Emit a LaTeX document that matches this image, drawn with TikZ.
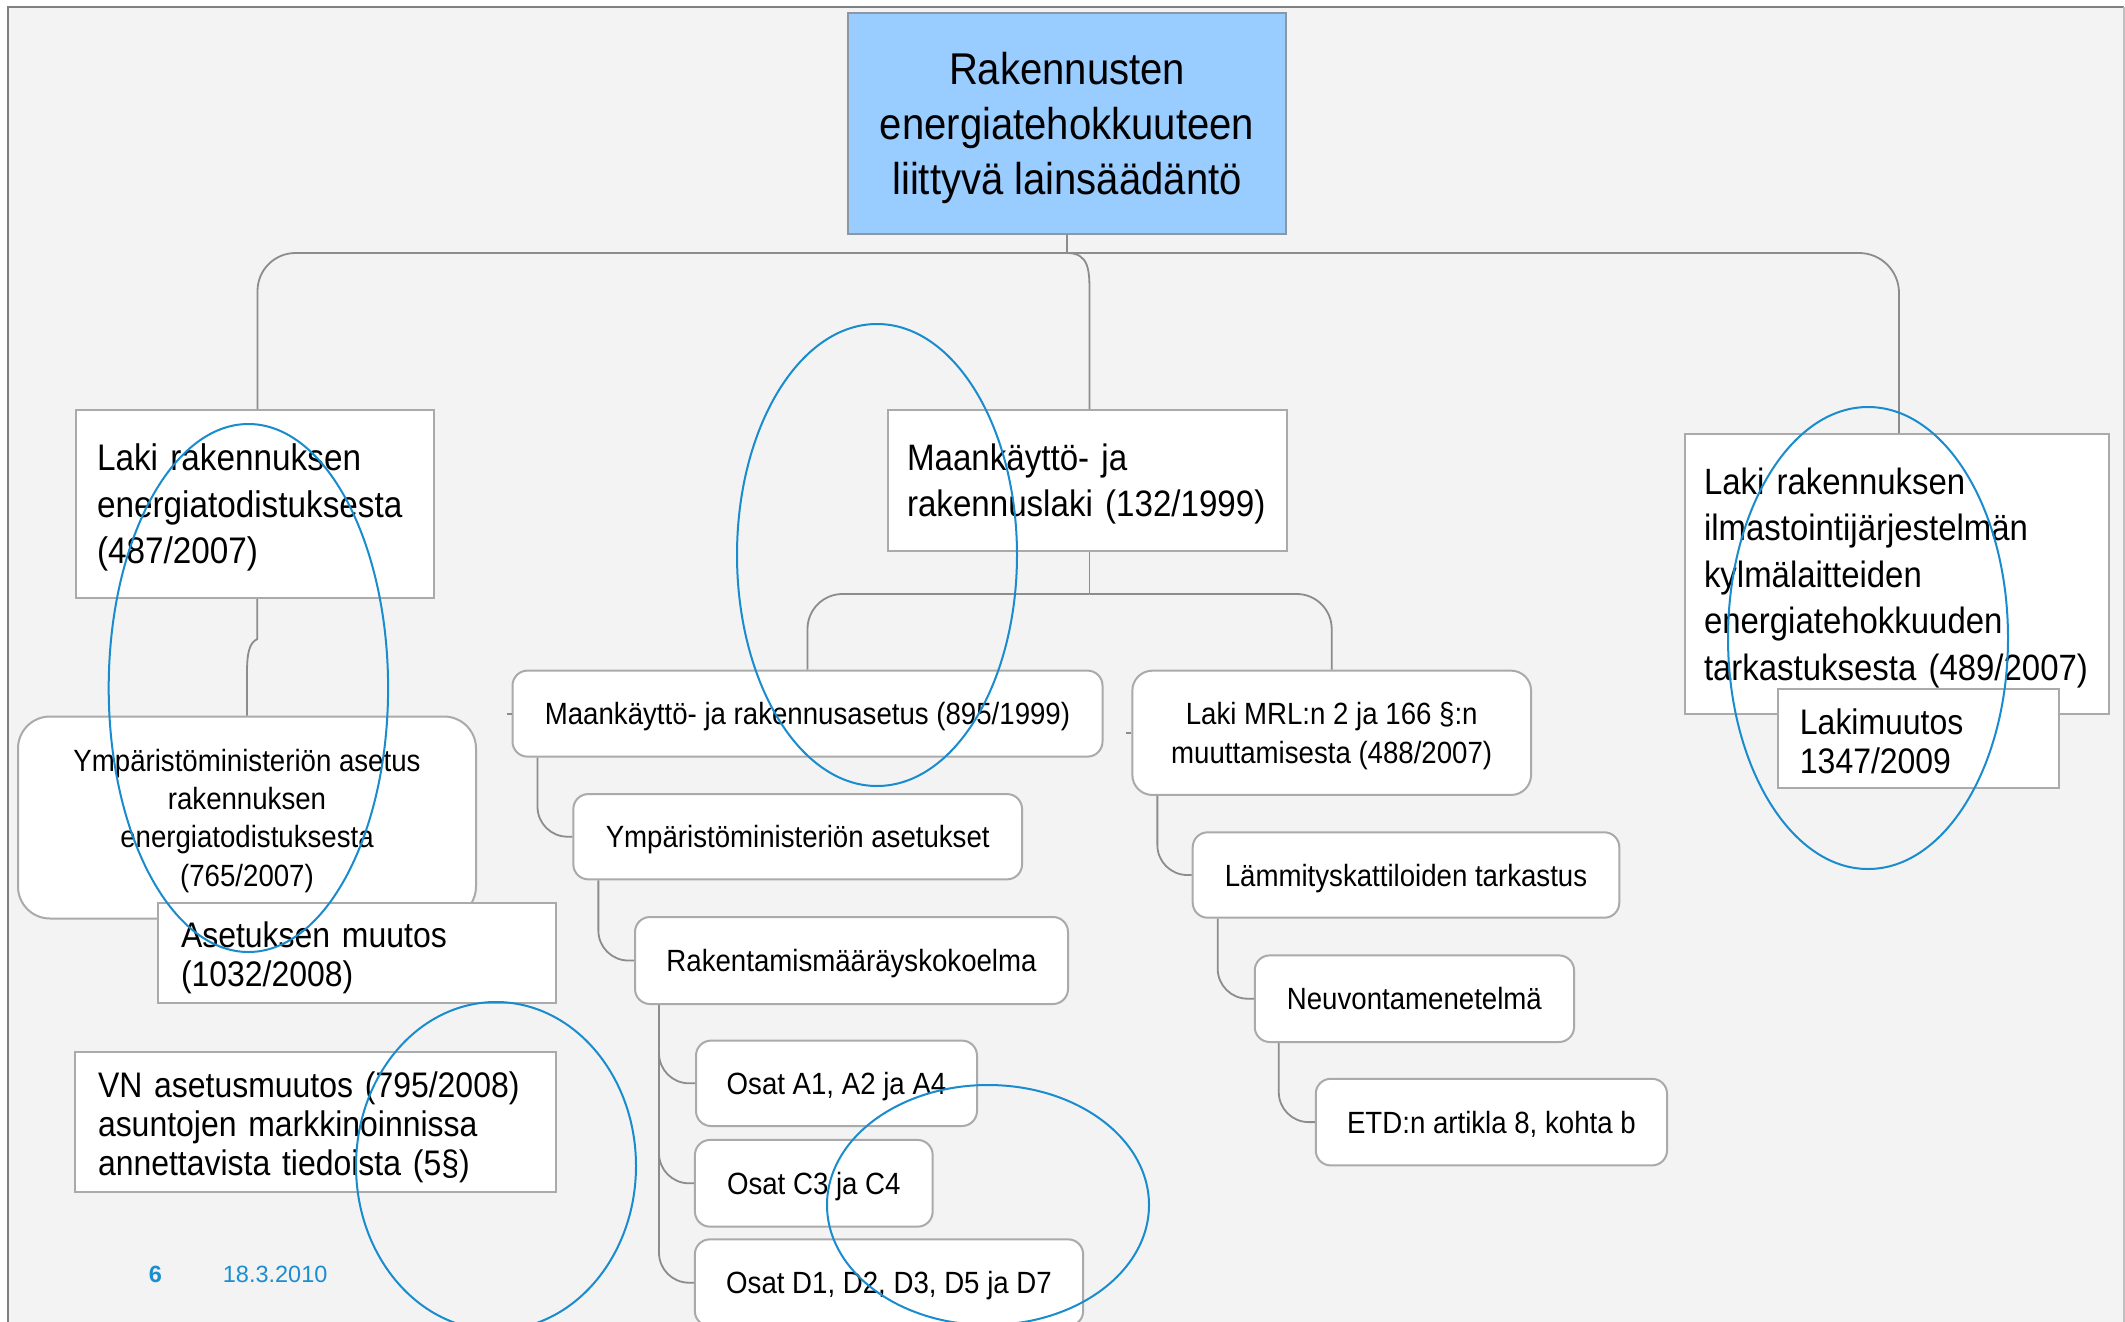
\documentclass[tikz,border=0pt]{standalone}
\usepackage{fontspec}
\setmainfont{Liberation Sans}[FakeStretch=0.9]
\newfontfamily\footfont{Liberation Sans}
\usetikzlibrary{calc}
\definecolor{bgc}{RGB}{243,243,243}
\definecolor{framec}{RGB}{128,128,128}
\definecolor{connc}{RGB}{140,140,140}
\definecolor{boxc}{RGB}{170,170,170}
\definecolor{titlefill}{RGB}{153,204,255}
\definecolor{titleborder}{RGB}{140,150,165}
\definecolor{ovalc}{RGB}{24,140,206}
\definecolor{footc}{RGB}{27,142,208}
\begin{document}
\begin{tikzpicture}[x=1pt,y=-1pt,
  conn/.style={draw=connc,line width=1.8pt},
  sqbox/.style={draw=boxc,fill=white,line width=2pt,rectangle,inner ysep=0pt},
  rbox/.style={sqbox,rounded corners=15pt,align=center,text depth=0pt},
  oval/.style={draw=ovalc,line width=2pt},
  lvlB/.style={font=\fontsize{30.7}{38.3}\selectfont},
  lvlC/.style={font=\fontsize{35.5}{39}\selectfont},
]
\useasboundingbox (0,0) rectangle (2125,1322);
\fill[white] (0,0) rectangle (2125,1322);
\fill[bgc] (8,7) rectangle (2124,1322);
\draw[framec,line width=2pt] (8,1322) -- (8,7) -- (2124,7);
\draw[framec!50,line width=1.5pt] (2124,7) -- (2124,1322);

% title
\node[sqbox,fill=titlefill,draw=titleborder,minimum width=438,minimum height=220,text depth=0pt,
  align=center,font=\fontsize{44.5}{55}\selectfont] (top) at (1067,123.5)
  {Rakennusten\\energiatehokkuuteen\\liittyvä lainsäädäntö};

% level 1
\node[sqbox,font=\fontsize{37}{46.5}\selectfont,align=left,text width=316,inner xsep=21,minimum height=188,text height=34.4] (L1) at (255,504)
  {Laki rakennuksen\\energiatodistuksesta\\(487/2007)};
\node[sqbox,font=\fontsize{36.8}{46}\selectfont,align=left,text width=361,inner xsep=19,minimum height=141,text height=34.3] (M1) at (1087.5,480.5)
  {Maankäyttö- ja\\rakennuslaki (132/1999)};
\node[sqbox,font=\fontsize{36.6}{46.5}\selectfont,align=left,text width=386,inner xsep=19,minimum height=280,text height=34.2] (R1) at (1897,574)
  {Laki rakennuksen\\ilmastointijärjestelmän\\kylmälaitteiden\\energiatehokkuuden\\tarkastuksesta (489/2007)};
\node[sqbox,lvlC,align=left,text width=237.5,inner xsep=21.5,minimum height=99,text height=32.4] (LM) at (1918.7,738.4)
  {Lakimuutos\\1347/2009};

% left branch
\node[rbox,rounded corners=32pt,lvlB,minimum width=458,minimum height=202] (Ymp) at (247,817.5)
  {Ympäristöministeriön asetus\\rakennuksen\\energiatodistuksesta\\(765/2007)};
\node[sqbox,lvlC,align=left,text width=352,inner xsep=22.65,minimum height=100.3,text height=36.4] (AM) at (357,952.9)
  {Asetuksen muutos\\(1032/2008)};
\node[sqbox,lvlC,align=left,text width=434.6,inner xsep=23,minimum height=140,text height=36.4] (VN) at (315.3,1122)
  {VN asetusmuutos (795/2008)\\asuntojen markkinoinnissa\\annettavista tiedoista (5§)};

% middle branch
\node[rbox,lvlB,minimum width=590,minimum height=86] (MRA) at (807.5,713.6)
  {Maankäyttö- ja rakennusasetus (895/1999)};
\node[rbox,lvlB,minimum width=448.7,minimum height=85.3] (YAS) at (797.7,836.7)
  {Ympäristöministeriön asetukset};
\node[rbox,lvlB,minimum width=433,minimum height=87] (RMK) at (851.5,960.5)
  {Rakentamismääräyskokoelma};
\node[rbox,lvlB,minimum width=281,minimum height=85.4] (OA) at (836.5,1083.3)
  {Osat A1, A2 ja A4};
\node[rbox,lvlB,minimum width=237.7,minimum height=86.7] (OC) at (813.8,1183.3)
  {Osat C3 ja C4};
\node[rbox,lvlB,minimum width=388.3,minimum height=86.7] (OD) at (889,1282.7)
  {Osat D1, D2, D3, D5 ja D7};

\node[rbox,rounded corners=20pt,lvlB,minimum width=398.7,minimum height=124.3] (LMRL) at (1331.7,732.8)
  {Laki MRL:n 2 ja 166 §:n\\muuttamisesta (488/2007)};
\node[rbox,lvlB,minimum width=426.6,minimum height=85.4] (LKT) at (1406,875)
  {Lämmityskattiloiden tarkastus};
\node[rbox,lvlB,minimum width=319.3,minimum height=86.6] (NM) at (1414.4,998.7)
  {Neuvontamenetelmä};
\node[rbox,lvlB,minimum width=351.3,minimum height=86.6] (ETD) at (1491.4,1122.1)
  {ETD:n artikla 8, kohta b};

% connectors
\coordinate (hub) at ($(top.south)+(0,18.5)$);
\draw[conn] (top.south) -- (hub);
\draw[conn,rounded corners=38pt] (hub) -| ($(L1.north)+(2.5,0)$);
\draw[conn,rounded corners=40pt] (hub) -| ($(R1.north)+(2,0)$);
\draw[conn] (hub) .. controls ($(hub -| M1.north)+(2,0)$) and ($(hub -| M1.north)+(2,18)$) .. ($(hub -| M1.north)+(2,41)$) -- ($(M1.north)+(2,0)$);

\draw[conn] ($(L1.south)+(2.3,0)$) -- ($(L1.south)+(2.3,40)$) .. controls ($(L1.south)+(-6,44)$) and ($(Ymp.north)+(0,-62)$) .. ($(Ymp.north)+(0,-42)$) -- (Ymp.north);

\coordinate (hub2) at ($(M1.south)+(2,42)$);
\draw[conn] ($(M1.south)+(2,0)$) -- (hub2);
\draw[conn,rounded corners=35pt] (hub2) -| (MRA.north);
\draw[conn,rounded corners=35pt] (hub2) -| (LMRL.north);

\draw[conn,rounded corners=30pt] ($(MRA.south west)+(26,0)$) |- (YAS.west);
\draw[conn,rounded corners=30pt] ($(YAS.south west)+(26,0)$) |- (RMK.west);
\draw[conn,rounded corners=30pt] ($(RMK.south west)+(25,0)$) |- (OA.west);
\draw[conn,rounded corners=30pt] ($(RMK.south west)+(25,0)$) |- (OC.west);
\draw[conn,rounded corners=30pt] ($(RMK.south west)+(25,0)$) |- (OD.west);
\draw[conn,rounded corners=30pt] ($(LMRL.south west)+(26,0)$) |- (LKT.west);
\draw[conn,rounded corners=30pt] ($(LKT.south west)+(26,0)$) |- (NM.west);
\draw[conn,rounded corners=30pt] ($(NM.south west)+(25,0)$) |- (ETD.west);
\draw[conn] (MRA.west) -- ++(-5,0);
\draw[conn] (LMRL.west) -- ++(-5,0);

% ovals
\draw[oval] (248.4,688) ellipse [x radius=139.7, y radius=264];
\draw[oval] (877,555) ellipse [x radius=140, y radius=231];
\draw[oval] (1868,638) ellipse [x radius=140, y radius=231];
\draw[oval] (496,1166) ellipse [x radius=140, y radius=164];
\draw[oval] (988,1205) ellipse [x radius=161, y radius=120];

% footer
\node[inner sep=0pt,anchor=base,text=footc,font=\footfont\fontsize{23.5}{26}\selectfont\bfseries] (pg) at (155.5,1282) {6};
\node[inner sep=0pt,anchor=base west,text=footc,font=\footfont\fontsize{23.5}{26}\selectfont] (dt) at (222.7,1282) {18.3.2010};
\end{tikzpicture}
\end{document}
